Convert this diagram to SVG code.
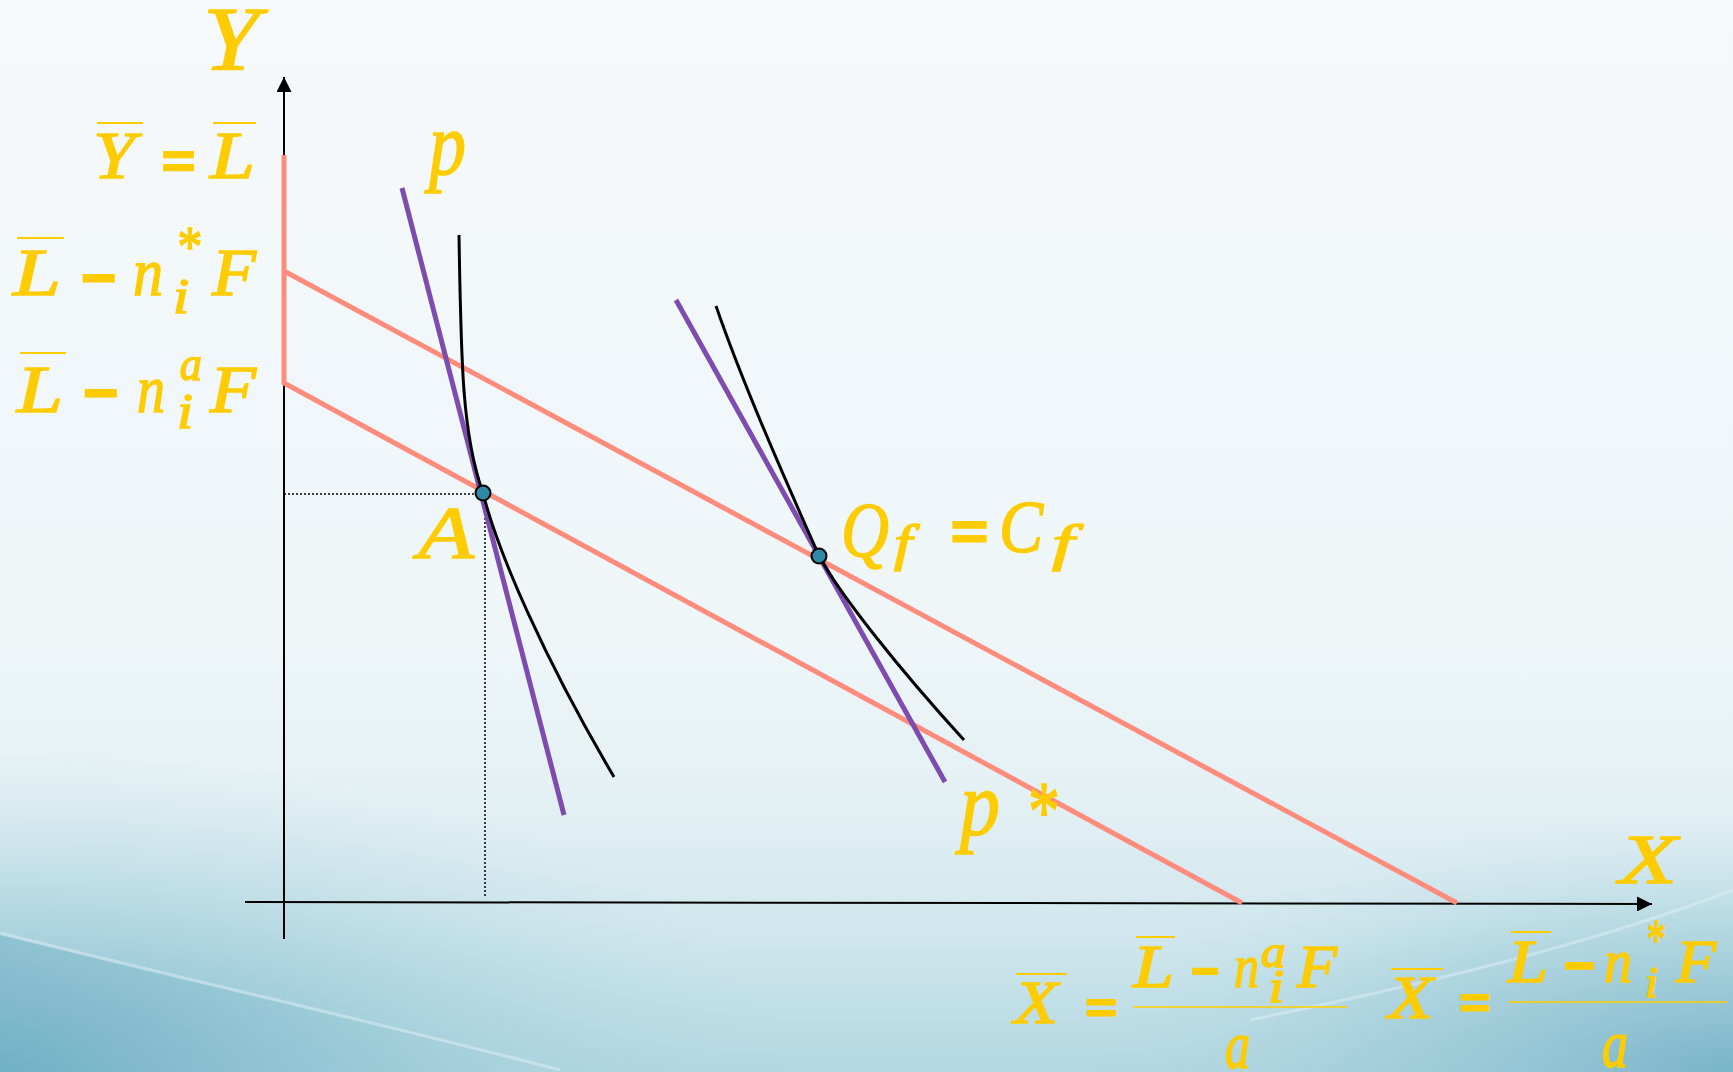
<svg xmlns="http://www.w3.org/2000/svg" width="1733" height="1072" viewBox="0 0 1733 1072">
<defs>
<linearGradient id="bg" x1="0" y1="0" x2="0" y2="1">
<stop offset="0" stop-color="#f6f9fc"/>
<stop offset="0.6" stop-color="#eef6f8"/>
<stop offset="0.75" stop-color="#e3f0f4"/>
<stop offset="0.87" stop-color="#d0e7ed"/>
<stop offset="1" stop-color="#b3d7e1"/>
</linearGradient>
<radialGradient id="rl" cx="0" cy="1072" r="800" gradientUnits="userSpaceOnUse" gradientTransform="translate(0,1072) scale(1,0.4) translate(0,-1072)">
<stop offset="0" stop-color="#6eaec3" stop-opacity="0.9"/>
<stop offset="0.5" stop-color="#8cc2d2" stop-opacity="0.45"/>
<stop offset="1" stop-color="#b5d9e3" stop-opacity="0"/>
</radialGradient>
<radialGradient id="rr" cx="1733" cy="1072" r="650" gradientUnits="userSpaceOnUse" gradientTransform="translate(1733,1072) scale(1,0.4) translate(-1733,-1072)">
<stop offset="0" stop-color="#6eaec3" stop-opacity="0.85"/>
<stop offset="0.6" stop-color="#8cc2d2" stop-opacity="0.35"/>
<stop offset="1" stop-color="#b5d9e3" stop-opacity="0"/>
</radialGradient>
<linearGradient id="swl" x1="0" y1="0" x2="1" y2="0">
<stop offset="0" stop-color="#6eaec3" stop-opacity="0.45"/>
<stop offset="1" stop-color="#8cc2d2" stop-opacity="0"/>
</linearGradient>
<marker id="ar" viewBox="0 0 10 10" refX="10" refY="5" markerWidth="15" markerHeight="15" markerUnits="userSpaceOnUse" orient="auto">
<path d="M0,0 L10,5 L0,10 Z" fill="#000"/>
</marker>
</defs>
<style>
.m{font-family:"Liberation Serif","Times New Roman",serif;font-style:italic;fill:#FFCC00;stroke:#FFCC00;stroke-width:1.5}
.op{font-family:"Liberation Sans",sans-serif;font-weight:bold;fill:#FFCC00;stroke:#FFCC00;stroke-width:2}
.ol{stroke:#FFCC00;stroke-width:2}
.frac{stroke:#FFCC00;stroke-width:1.5}
.pink{stroke:#FF8C7C;stroke-width:5;fill:none}
.purp{stroke:#7E4BAE;stroke-width:5;fill:none}
.crv{stroke:#000;stroke-width:3;fill:none}
.axis{stroke:#000;stroke-width:2;fill:none}
.dot{stroke:#000;stroke-width:1.5;stroke-dasharray:2,2;fill:none}
.pt{fill:#2f8aa8;stroke:#000;stroke-width:2}
.streak{fill:none;stroke:#e4f2f6;stroke-opacity:0.45;stroke-width:3}
</style>
<rect width="1733" height="1072" fill="url(#bg)"/>
<rect width="1733" height="1072" fill="url(#rl)"/>
<rect width="1733" height="1072" fill="url(#rr)"/>
<path d="M0,935 C200,985 380,1025 560,1072 L0,1072 Z" fill="url(#swl)"/>
<path class="streak" d="M0,933 C200,983 380,1023 560,1070"/>
<path class="streak" d="M1250,1020 C1420,985 1590,945 1733,890"/>

<g id="connectors">
<line class="axis" x1="245" y1="902" x2="1652" y2="904" marker-end="url(#ar)"/>
<line class="axis" x1="284" y1="939" x2="284" y2="77" marker-end="url(#ar)"/>
<line class="dot" x1="284" y1="494" x2="483" y2="494"/>
<line class="dot" x1="485" y1="494" x2="485" y2="898"/>
</g>

<g id="budget-lines">
<polyline class="pink" points="284,155 284,383 1242,903"/>
<line class="pink" x1="284" y1="271" x2="1457" y2="903"/>
</g>

<g id="price-lines">
<line class="purp" x1="402" y1="188" x2="564" y2="815"/>
<line class="purp" x1="676" y1="300" x2="945" y2="782"/>
</g>

<g id="indifference-curves">
<path class="crv" d="M459,235 C461,360 462,435 483,493 C498,553 545,660 614,777"/>
<path class="crv" d="M716,306 C745,390 790,490 819,556 C841,596 900,670 964,740"/>
</g>

<g id="point-A">
<circle class="pt" cx="483" cy="493" r="7.5"/>
<text class="m" x="418" y="558" font-size="75" textLength="56" lengthAdjust="spacingAndGlyphs">A</text>
</g>

<g id="point-Q">
<circle class="pt" cx="819" cy="556" r="7.5"/>
<text class="m" x="841" y="556" font-size="78" textLength="48" lengthAdjust="spacingAndGlyphs">Q</text>
<text class="m" x="894" y="560" font-size="50" textLength="18" lengthAdjust="spacingAndGlyphs">f</text>
<text class="op" x="951" y="549" font-size="52" textLength="37" lengthAdjust="spacingAndGlyphs">=</text>
<text class="m" x="999" y="552" font-size="74" textLength="44" lengthAdjust="spacingAndGlyphs">C</text>
<text class="m" x="1052" y="560" font-size="50" textLength="22" lengthAdjust="spacingAndGlyphs">f</text>
</g>

<g id="label-Y">
<text class="m" x="203" y="70" font-size="90" textLength="56" lengthAdjust="spacingAndGlyphs">Y</text>
</g>
<g id="label-X">
<text class="m" x="1619" y="883" font-size="70" textLength="58" lengthAdjust="spacingAndGlyphs">X</text>
</g>
<g id="label-p">
<text class="m" x="429" y="174" font-size="88" textLength="37" lengthAdjust="spacingAndGlyphs">p</text>
</g>
<g id="label-pstar">
<text class="m" x="960" y="835" font-size="90" textLength="40" lengthAdjust="spacingAndGlyphs">p</text>
<text class="m" x="1025" y="840" font-size="85" textLength="32" lengthAdjust="spacingAndGlyphs">*</text>
</g>

<g id="label-Ybar">
<text class="m" x="93" y="178" font-size="68" textLength="42" lengthAdjust="spacingAndGlyphs">Y</text>
<line class="ol" x1="97" y1="123" x2="143" y2="123"/>
<text class="op" x="162" y="178" font-size="48" textLength="33" lengthAdjust="spacingAndGlyphs">=</text>
<text class="m" x="210" y="178" font-size="68" textLength="45" lengthAdjust="spacingAndGlyphs">L</text>
<line class="ol" x1="213" y1="123" x2="256" y2="123"/>
</g>

<g id="label-Lstar">
<text class="m" x="13" y="295" font-size="68" textLength="48" lengthAdjust="spacingAndGlyphs">L</text>
<line class="ol" x1="17" y1="238" x2="64" y2="238"/>
<text class="op" x="81" y="298" font-size="60" textLength="35" lengthAdjust="spacingAndGlyphs">−</text>
<text class="m" x="133" y="295" font-size="68" textLength="30" lengthAdjust="spacingAndGlyphs">n</text>
<text class="m" x="175" y="266" font-size="58" textLength="25" lengthAdjust="spacingAndGlyphs">*</text>
<text class="m" x="173" y="313" font-size="50" textLength="16" lengthAdjust="spacingAndGlyphs">i</text>
<text class="m" x="212" y="295" font-size="68" textLength="44" lengthAdjust="spacingAndGlyphs">F</text>
</g>

<g id="label-La">
<text class="m" x="17" y="412" font-size="68" textLength="46" lengthAdjust="spacingAndGlyphs">L</text>
<line class="ol" x1="20" y1="353" x2="66" y2="353"/>
<text class="op" x="83" y="413" font-size="60" textLength="35" lengthAdjust="spacingAndGlyphs">−</text>
<text class="m" x="137" y="412" font-size="68" textLength="28" lengthAdjust="spacingAndGlyphs">n</text>
<text class="m" x="180" y="380" font-size="48" textLength="22" lengthAdjust="spacingAndGlyphs">a</text>
<text class="m" x="177" y="428" font-size="50" textLength="16" lengthAdjust="spacingAndGlyphs">i</text>
<text class="m" x="210" y="412" font-size="68" textLength="46" lengthAdjust="spacingAndGlyphs">F</text>
</g>

<g id="label-Xa">
<text class="m" x="1014" y="1023" font-size="62" textLength="44" lengthAdjust="spacingAndGlyphs">X</text>
<line class="ol" x1="1016" y1="974" x2="1067" y2="974"/>
<text class="op" x="1086" y="1022" font-size="40" textLength="31" lengthAdjust="spacingAndGlyphs">=</text>
<text class="m" x="1133" y="987" font-size="62" textLength="41" lengthAdjust="spacingAndGlyphs">L</text>
<line class="ol" x1="1136" y1="937" x2="1175" y2="937"/>
<text class="op" x="1191" y="988" font-size="50" textLength="28" lengthAdjust="spacingAndGlyphs">−</text>
<text class="m" x="1234" y="987" font-size="62" textLength="25" lengthAdjust="spacingAndGlyphs">n</text>
<text class="m" x="1261" y="967" font-size="46" textLength="25" lengthAdjust="spacingAndGlyphs">a</text>
<text class="m" x="1268" y="1002" font-size="46" textLength="16" lengthAdjust="spacingAndGlyphs">i</text>
<text class="m" x="1297" y="987" font-size="62" textLength="40" lengthAdjust="spacingAndGlyphs">F</text>
<line class="frac" x1="1133" y1="1007" x2="1347" y2="1007"/>
<text class="m" x="1225" y="1068" font-size="68" textLength="25" lengthAdjust="spacingAndGlyphs">a</text>
</g>

<g id="label-Xstar">
<text class="m" x="1388" y="1018" font-size="62" textLength="45" lengthAdjust="spacingAndGlyphs">X</text>
<line class="ol" x1="1391" y1="969" x2="1443" y2="969"/>
<text class="op" x="1460" y="1017" font-size="40" textLength="30" lengthAdjust="spacingAndGlyphs">=</text>
<text class="m" x="1508" y="982" font-size="62" textLength="40" lengthAdjust="spacingAndGlyphs">L</text>
<line class="ol" x1="1511" y1="932" x2="1551" y2="932"/>
<text class="op" x="1564" y="983" font-size="52" textLength="31" lengthAdjust="spacingAndGlyphs">−</text>
<text class="m" x="1604" y="982" font-size="62" textLength="28" lengthAdjust="spacingAndGlyphs">n</text>
<text class="m" x="1645" y="959" font-size="58" textLength="19" lengthAdjust="spacingAndGlyphs">*</text>
<text class="m" x="1645" y="997" font-size="44" textLength="13" lengthAdjust="spacingAndGlyphs">i</text>
<text class="m" x="1676" y="982" font-size="62" textLength="40" lengthAdjust="spacingAndGlyphs">F</text>
<line class="frac" x1="1508" y1="1002" x2="1727" y2="1002"/>
<text class="m" x="1602" y="1067" font-size="68" textLength="26" lengthAdjust="spacingAndGlyphs">a</text>
</g>
</svg>
